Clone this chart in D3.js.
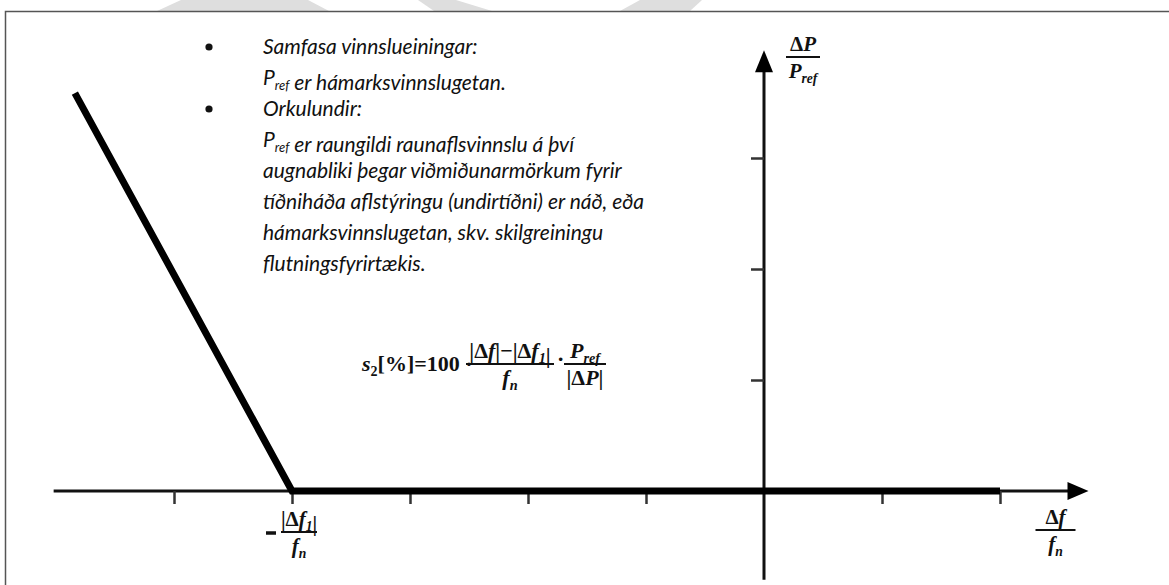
<!DOCTYPE html>
<html>
<head>
<meta charset="utf-8">
<script src="https://cdn.jsdelivr.net/npm/d3@7"></script>
<style>
  body { margin: 0; background: #fff; }
  svg { display: block; }
  .note { font-family: Lato, "Open Sans", sans-serif; font-style: italic; font-size: 21px; fill: #111; }
  .math { font-family: "Liberation Serif", "DejaVu Serif", serif; fill: #111; }
</style>
</head>
<body>
<div id="chart"></div>
<script>
// droop characteristic (units of tick steps)
const droopX = [-5.84, -4, 2];
const droopY = [3.585, 0, 0];
const xTicks = [-5, -4, -3, -2, -1, 1, 2];
const yTicks = [1, 2, 3];
const xAxisRange = [-6.02, 2.75];
const yAxisRange = [-0.8, 3.97];

const noteLines = [
  "Samfasa vinnslueiningar:",
  "P{ref} er hámarksvinnslugetan.",
  "Orkulundir:",
  "P{ref} er raungildi raunaflsvinnslu á því",
  "augnabliki þegar viðmiðunarmörkum fyrir",
  "tíðniháða aflstýringu (undirtíðni) er náð, eða",
  "hámarksvinnslugetan, skv. skilgreiningu",
  "flutningsfyrirtækis."
];
const bulletRows = [0, 2];

const width = 1169, height = 585;

const x = d3.scaleLinear().domain([0, 1]).range([764, 882]);
const y = d3.scaleLinear().domain([0, 1]).range([491, 380]);

const svg = d3.select("#chart").append("svg")
  .attr("width", width)
  .attr("height", height);

// faint watermark pieces above the frame
const marks = [
  [[157, 11], [181, 0], [308, 0], [329, 11]],
  [[418, 0], [456, 0], [492, 11], [434, 11]],
  [[640, 0], [702, 0], [690, 11], [620, 11]]
];
svg.selectAll("polygon.wm").data(marks).enter()
  .append("polygon")
  .attr("class", "wm")
  .attr("points", d => d.map(p => p.join(",")).join(" "))
  .style("fill", "#dedede");

// frame
svg.append("path")
  .attr("d", "M5.5," + height + "V11.5H" + width)
  .style("fill", "none")
  .style("stroke", "#555")
  .style("stroke-width", 1.5);

// axes lines
svg.append("line")
  .attr("x1", x(xAxisRange[0])).attr("x2", x(xAxisRange[1]) - 12)
  .attr("y1", y(0)).attr("y2", y(0))
  .style("stroke", "#111").style("stroke-width", 3);
svg.append("line")
  .attr("x1", x(0)).attr("x2", x(0))
  .attr("y1", y(yAxisRange[0])).attr("y2", y(yAxisRange[1]) + 12)
  .style("stroke", "#111").style("stroke-width", 3);

// arrow heads
const tipX = x(xAxisRange[1]), tipY = y(yAxisRange[1]);
svg.append("path")
  .attr("d", `M${tipX},${y(0)}L${tipX - 21},${y(0) - 9}L${tipX - 21},${y(0) + 9}Z`)
  .style("fill", "#000");
svg.append("path")
  .attr("d", `M${x(0)},${tipY}L${x(0) - 9},${tipY + 22}L${x(0) + 9},${tipY + 22}Z`)
  .style("fill", "#000");

// ticks
const xAxis = svg.append("g")
  .attr("transform", `translate(0,${y(0)})`)
  .call(d3.axisBottom(x).tickValues(xTicks).tickSize(13).tickFormat(""));
const yAxis = svg.append("g")
  .attr("transform", `translate(${x(0)},0)`)
  .call(d3.axisLeft(y).tickValues(yTicks).tickSize(13).tickFormat(""));
[xAxis, yAxis].forEach(g => {
  g.select(".domain").remove();
  g.selectAll(".tick line").style("stroke", "#333").style("stroke-width", 2.5);
});

// droop line
const line = d3.line().x(d => x(d[0])).y(d => y(d[1]));
svg.append("path")
  .datum(droopX.map((v, i) => [v, droopY[i]]))
  .attr("d", line)
  .style("fill", "none")
  .style("stroke", "#000")
  .style("stroke-width", 7)
  .style("stroke-linejoin", "miter");

// note text
const note = svg.append("g");
noteLines.forEach((s, i) => {
  const by = 54 + i * 31;
  if (bulletRows.includes(i)) {
    note.append("circle").attr("cx", 209).attr("cy", by - 7).attr("r", 3.6).style("fill", "#111");
  }
  const t = note.append("text").attr("class", "note").attr("x", 263).attr("y", by);
  s.split(/(\{[^}]*\})/).filter(p => p.length).forEach(p => {
    if (p[0] === "{") {
      t.append("tspan").attr("dy", 5).style("font-size", "13px").text(p.slice(1, -1));
      t.append("tspan").attr("dy", -5).text("");
    } else {
      t.append("tspan").text(p);
    }
  });
});

// helper for stacked fractions
function frac(g, cx, barY, halfW, top, bottom) {
  g.append("line")
    .attr("x1", cx - halfW).attr("x2", cx + halfW)
    .attr("y1", barY).attr("y2", barY)
    .style("stroke", "#111").style("stroke-width", 1.8);
  const a = g.append("text").attr("class", "math").attr("x", cx).attr("y", barY - 6)
    .attr("text-anchor", "middle");
  top(a);
  const b = g.append("text").attr("class", "math").attr("x", cx).attr("y", barY + 21)
    .attr("text-anchor", "middle");
  bottom(b);
}
function sub(t, main, s, italicMain) {
  t.append("tspan").style("font-style", italicMain ? "italic" : "normal").text(main);
  t.append("tspan").attr("dy", 5).style("font-size", "0.65em").style("font-style", "italic").text(s);
  t.append("tspan").attr("dy", -5).text("");
}

// formula
const fm = svg.append("g").style("font-size", "22px").style("font-weight", "bold");
const s2 = fm.append("text").attr("class", "math").attr("x", 362).attr("y", 371);
s2.append("tspan").style("font-style", "italic").text("s");
s2.append("tspan").attr("dy", 5).style("font-size", "14px").text("2");
s2.append("tspan").attr("dy", -5).text("[%]=100 ·");
frac(fm, 510, 364, 44, t => {
  t.append("tspan").text("|Δ");
  t.append("tspan").style("font-style", "italic").text("f");
  t.append("tspan").text("|−|Δ");
  sub(t, "f", "1", true);
  t.append("tspan").text("|");
}, t => sub(t, "f", "n", true));
fm.append("text").attr("class", "math").attr("x", 557).attr("y", 366).text("·");
frac(fm, 585, 364, 21, t => sub(t, "P", "ref", true), t => {
  t.append("tspan").text("|Δ");
  t.append("tspan").style("font-style", "italic").text("P");
  t.append("tspan").text("|");
});

// axis labels
const lab = svg.append("g").style("font-size", "21px").style("font-weight", "bold");
frac(lab, 803, 57, 17, t => {
  t.append("tspan").text("Δ");
  t.append("tspan").style("font-style", "italic").text("P");
}, t => sub(t, "P", "ref", true));
frac(lab, x(xAxisRange[1]) - 33, 530, 20, t => {
  t.append("tspan").text("Δ");
  t.append("tspan").style("font-style", "italic").text("f");
}, t => sub(t, "f", "n", true));
frac(lab, x(-4) + 7, 532, 18, t => {
  t.append("tspan").text("|Δ");
  sub(t, "f", "1", true);
  t.append("tspan").text("|");
}, t => sub(t, "f", "n", true));
lab.append("line")
  .attr("x1", x(-4) - 26).attr("x2", x(-4) - 16)
  .attr("y1", 533).attr("y2", 533)
  .style("stroke", "#111").style("stroke-width", 3.5);
</script>
</body>
</html>
